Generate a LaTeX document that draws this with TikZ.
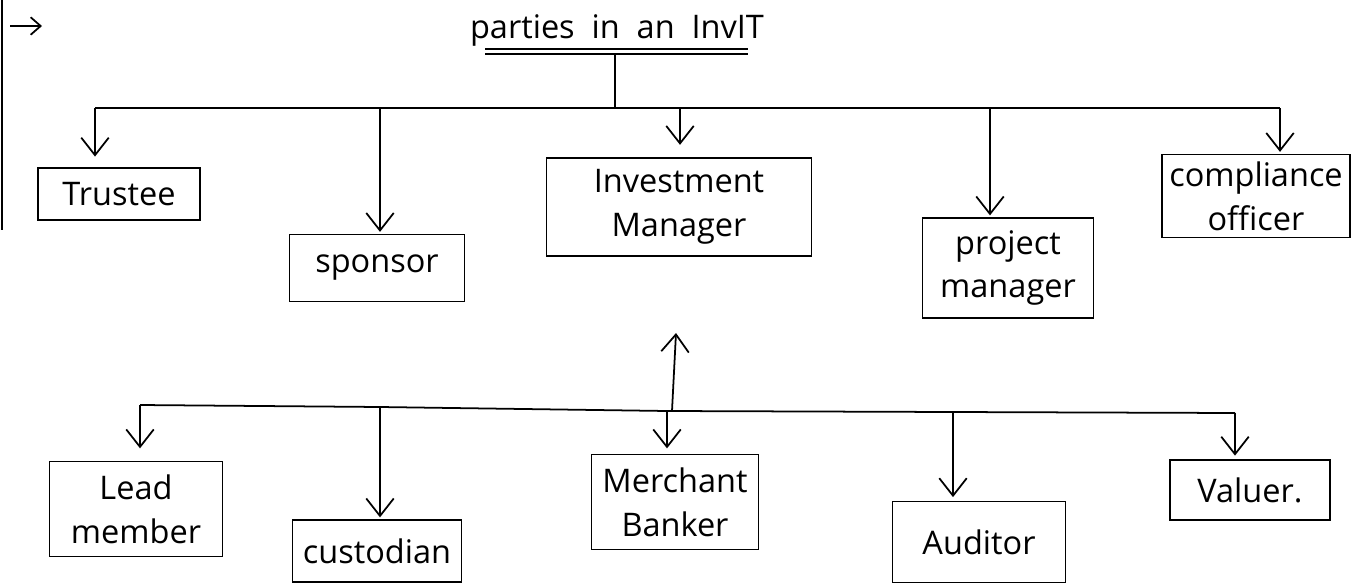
\documentclass[tikz,border=0pt]{standalone}
\usepackage{fontspec}
\setmainfont{Open Sans}
\usetikzlibrary{arrows.meta}

\begin{document}
\begin{tikzpicture}[x=0.02cm, y=-0.02cm, >={Straight Barb[length=3.5mm, width=5.5mm]},
  font=\fontsize{18.5}{25}\selectfont, line width=1pt,
  box/.style={draw, rectangle, align=center, inner sep=0pt}]
				\useasboundingbox (0,0) rectangle (1370,585);

				% margin and heading
				\draw (2,0) -- (2,230);
				\coordinate (mk1) at (10,26);
				\coordinate (mk2) at (42,26);
				\draw[->, >={Straight Barb[length=2mm, width=3.5mm]}] (mk1) -- (mk2);
				\node (title) at (617,30) {parties\ \ in\ \ an\ \ InvIT};
				\draw (485,49) -- (748,49);
				\draw (485,54) -- (748,54);

				% upper row
				\node[box, minimum width=3.24cm, minimum height=1.04cm] (trustee) at (119,194) {Trustee};
				\node[box, minimum width=3.5cm, minimum height=1.34cm] (sponsor) at (377,268) {sponsor};
				\node[box, minimum width=5.3cm, minimum height=1.96cm] (invman) at (679,207) {Investment\\Manager};
				\node[box, minimum width=3.42cm, minimum height=2cm] (projman) at (1008,268) {project\\manager};
				\node[box, minimum width=3.76cm, minimum height=1.66cm] (compl) at (1256,196) {compliance\\officer};

				\coordinate (top) at (615,108);
				\coordinate (a1) at (95,108);
				\coordinate (a2) at (380,108);
				\coordinate (a3) at (680,108);
				\coordinate (a4) at (990,108);
				\coordinate (a5) at (1280,108);
				\draw (615,54) -- (top);
				\draw (a1) -- (a5);
				\draw[->, shorten >=6pt] (a1) -- (a1 |- trustee.north);
				\draw[->, shorten >=1pt] (a2) -- (a2 |- sponsor.north);
				\draw[->, shorten >=7pt] (a3) -- (a3 |- invman.north);
				\draw[->, shorten >=1pt] (a4) -- (a4 |- projman.north);
				\draw[->, shorten >=1pt] (a5) -- (a5 |- compl.north);

				% lower row
				\node[box, minimum width=3.46cm, minimum height=1.9cm] (lead) at (136,509) {Lead\\member};
				\node[box, minimum width=3.38cm, minimum height=1.24cm] (cust) at (377,551) {custodian};
				\node[box, minimum width=3.34cm, minimum height=1.9cm] (merch) at (675,502) {Merchant\\Banker};
				\node[box, minimum width=3.46cm, minimum height=1.62cm] (audit) at (979,542) {Auditor};
				\node[box, minimum width=3.2cm, minimum height=1.2cm] (valuer) at (1250,490) {Valuer.};

				\coordinate (mid) at (672,411);
				\coordinate (up) at (676,333);
				\coordinate (b1) at (140,405);
				\coordinate (b2) at (380,407);
				\coordinate (b3) at (667,411);
				\coordinate (b4) at (953,412);
				\coordinate (b5) at (1235,413);
				\draw[->] (mid) -- (up);
				\draw (b1) -- (b2) -- (b3) -- (b4) -- (b5);
				\draw[->, shorten >=7pt] (b1) -- (b1 |- lead.north);
				\draw[->, shorten >=1pt] (b2) -- (b2 |- cust.north);
				\draw[->, shorten >=3pt] (b3) -- (b3 |- merch.north);
				\draw[->, shorten >=2pt] (b4) -- (b4 |- audit.north);
				\draw[->, shorten >=2pt] (b5) -- (b5 |- valuer.north);
			\end{tikzpicture}
\end{document}
